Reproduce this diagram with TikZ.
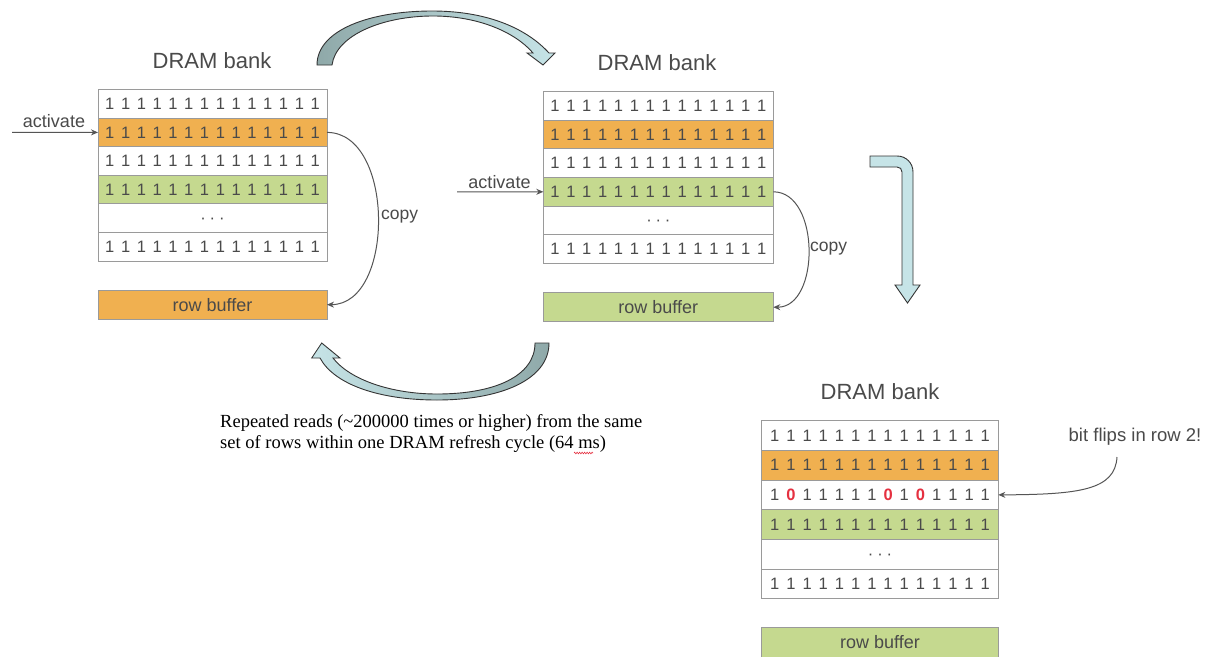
\documentclass[tikz,border=0pt]{standalone}
\usepackage{fontspec}
\setmainfont{Liberation Serif}
\setsansfont{Liberation Sans}
\usetikzlibrary{arrows.meta,decorations.pathmorphing}
\definecolor{txt}{HTML}{4A4A4A}
\definecolor{bord}{HTML}{9A9A9A}
\definecolor{orow}{HTML}{F0B050}
\definecolor{grow}{HTML}{C5D98F}
\definecolor{adark}{HTML}{8FA9A9}
\definecolor{alight}{HTML}{C6E4E7}
\definecolor{flip}{HTML}{E53040}
\definecolor{conn}{HTML}{555555}
\newlength\bitw
\newcommand\bb{\makebox[\bitw][c]{1}}
\newcommand\bz{\makebox[\bitw][c]{\textcolor{flip}{\bfseries 0}}}
\newcommand\allones{\bb\bb\bb\bb\bb\bb\bb\bb\bb\bb\bb\bb\bb\bb}
\newcommand\dotsrow{\raisebox{-5pt}[0pt][0pt]{\makebox[9.3pt]{·}\makebox[9.3pt]{·}\makebox[9.3pt]{·}}}
\tikzset{
  sans/.style={font=\sffamily\fontsize{#1}{#1}\selectfont, text=txt},
  rowcell/.style={draw=bord, line width=1pt, inner sep=0pt, outer sep=0pt,
    anchor=north west, sans=16.5},
  rowA/.style={rowcell, minimum width=229pt, minimum height=28.6pt},
  rowB/.style={rowcell, minimum width=230pt, minimum height=28.6pt},
  rowC/.style={rowcell, minimum width=236.6pt, minimum height=29.67pt},
  bufcell/.style={draw=bord, line width=1pt, inner sep=0pt, outer sep=0pt,
    anchor=north west, sans=18},
  title/.style={sans=22, inner sep=0pt},
  lbl/.style={sans=18, inner sep=0pt},
  conn/.style={draw=conn, line width=1pt, -{Stealth[length=7pt,width=6pt]}},
  bigarrow/.style={draw=black!80, line width=0.9pt},
}
\begin{document}
\begin{tikzpicture}[x=1pt,y=-1pt]
\fill[white] (0,0) rectangle (1212,656);
\useasboundingbox (0,0) rectangle (1212,656);

% ---------- bank 1 ----------
\setlength\bitw{15.8pt}
\node[title] (t1) at (212,61) {DRAM bank};
\node[rowA] (a1) at (98,89.5) {\allones};
\node[rowA, fill=orow] (a2) at (a1.south west) {\allones};
\node[rowA] (a3) at (a2.south west) {\allones};
\node[rowA, fill=grow] (a4) at (a3.south west) {\allones};
\node[rowA] (a5) at (a4.south west) {\dotsrow};
\node[rowA] (a6) at (a5.south west) {\allones};
\node[bufcell, fill=orow, minimum width=229pt, minimum height=29.3pt] (abuf) at (98,290) {row buffer};
\coordinate (act1) at (12,132.4);
\node[lbl] (actl1) at (54,121) {activate};
\draw[conn] (act1) -- (a2.west);
\draw[conn] (a2.east) .. controls +(68,0) and +(68,0) .. (abuf.east);
\node[lbl, sans=17.5, anchor=west] (cp1) at (381,217) {copy};

% ---------- bank 2 ----------
\setlength\bitw{15.9pt}
\node[title] (t2) at (657,63) {DRAM bank};
\node[rowB] (b1) at (543.3,91.7) {\allones};
\node[rowB, fill=orow] (b2) at (b1.south west) {\allones};
\node[rowB] (b3) at (b2.south west) {\allones};
\node[rowB, fill=grow] (b4) at (b3.south west) {\allones};
\node[rowB] (b5) at (b4.south west) {\dotsrow};
\node[rowB] (b6) at (b5.south west) {\allones};
\node[bufcell, fill=grow, minimum width=230pt, minimum height=29pt] (bbuf) at (543.3,292.7) {row buffer};
\coordinate (act2) at (457,191.8);
\node[lbl] (actl2) at (499.5,181.7) {activate};
\draw[conn] (act2) -- (b4.west);
\draw[conn] (b4.east) .. controls +(47,0) and +(47,0) .. (bbuf.east);
\node[lbl, sans=17.5, anchor=west] (cp2) at (810,249) {copy};

% ---------- bank 3 ----------
\setlength\bitw{16.2pt}
\node[title] (t3) at (880,392) {DRAM bank};
\node[rowC] (c1) at (761.7,420.7) {\allones};
\node[rowC, fill=orow] (c2) at (c1.south west) {\allones};
\node[rowC] (c3) at (c2.south west) {\bb\bz\bb\bb\bb\bb\bb\bz\bb\bz\bb\bb\bb\bb};
\node[rowC, fill=grow] (c4) at (c3.south west) {\allones};
\node[rowC] (c5) at (c4.south west) {\dotsrow};
\node[rowC] (c6) at (c5.south west) {\allones};
\node[bufcell, fill=grow, minimum width=236.6pt, minimum height=29.7pt] (cbuf) at (761.7,627.3) {row buffer};
\node[lbl, sans=18.5] (bf) at (1135,436.7) {bit flips in row 2!};
\coordinate (bfs) at (1117,457);
\draw[conn] (bfs) .. controls (1115,490) and (1080,494.5) .. (c3.east);

% ---------- big block arrows ----------
\draw[bigarrow, left color=adark, right color=alight]
  (317,65) .. controls (317,30) and (370,11) .. (432,11)
  .. controls (490,11) and (528,30) .. (549,53)
  -- (555,53) -- (543,65) -- (527,53) -- (533,53)
  .. controls (515,32) and (478,16) .. (433,16)
  .. controls (383,16) and (336,35) .. (332,65) -- cycle;

\draw[bigarrow, left color=alight, right color=adark]
  (549,343) .. controls (549,380) and (500,400) .. (437,400)
  .. controls (378,400) and (334,384) .. (320,358)
  -- (311.7,358) -- (321.7,343) -- (340,358) -- (333,358)
  .. controls (350,380) and (392,394) .. (437,394)
  .. controls (495,394) and (535,376) .. (535,343) -- cycle;

\draw[bigarrow, fill=alight]
  (870,156) -- (897,156) .. controls (906,156) and (913,163) .. (913,172)
  -- (913,285) -- (920,285) -- (907.5,303) -- (895,285) -- (902,285)
  -- (902,172) .. controls (902,169) and (900,167) .. (897,167)
  -- (870,167) -- cycle;

% ---------- caption ----------
\node[anchor=north west, align=left, inner sep=0pt,
      font=\fontsize{18.5}{21}\selectfont] (cap) at (220,414.5)
  {Repeated reads (\textasciitilde200000 times or higher) from the same\\
   set of rows within one DRAM refresh cycle (64 ms)};
\draw[flip, line width=0.6pt, decorate,
      decoration={zigzag, segment length=2.5pt, amplitude=0.8pt}]
  (574,453) -- (593,453);
\end{tikzpicture}
\end{document}
